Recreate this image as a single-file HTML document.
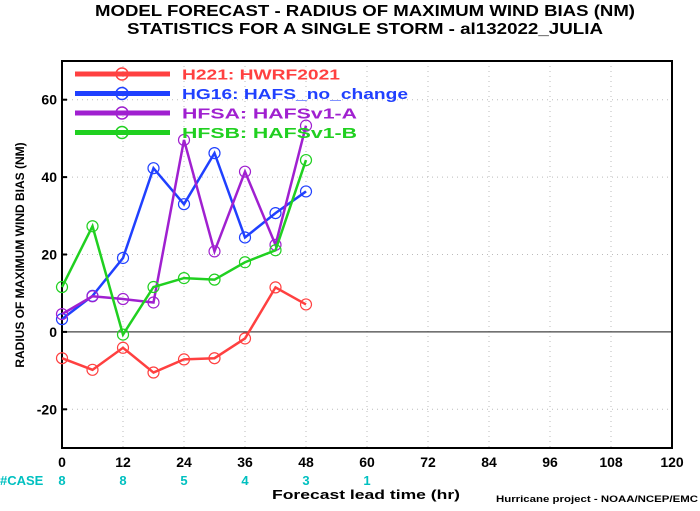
<!DOCTYPE html>
<html><head><meta charset="utf-8"><style>
body{margin:0;background:#fff}
text{font-family:"Liberation Sans",sans-serif;font-weight:bold}
</style></head><body>
<svg id="chart" width="700" height="506" xmlns="http://www.w3.org/2000/svg">
<text x="95" y="16" font-size="16" textLength="540" lengthAdjust="spacingAndGlyphs">MODEL FORECAST - RADIUS OF MAXIMUM WIND BIAS (NM)</text>
<text x="127" y="34" font-size="16" textLength="476" lengthAdjust="spacingAndGlyphs">STATISTICS FOR A SINGLE STORM - al132022_JULIA</text>
<text transform="translate(24,255) rotate(-90)" text-anchor="middle" font-size="12">RADIUS OF MAXIMUM WIND BIAS (NM)</text>
<text x="272" y="499" font-size="13" textLength="188" lengthAdjust="spacingAndGlyphs">Forecast lead time (hr)</text>
<text x="496" y="502" font-size="9" font-weight="normal" textLength="202" lengthAdjust="spacingAndGlyphs">Hurricane project - NOAA/NCEP/EMC</text>
<text x="0" y="485" font-size="13" fill="#00c0c0">#CASE</text>
<g id="grid"></g><g id="axes"></g><g id="series"></g><g id="legend"></g>
</svg>
<script>
const xTicks=[0,12,24,36,48,60,72,84,96,108,120];
const yTicks=[-20,0,20,40,60];
const caseHours=[0,12,24,36,48,60];
const caseCounts=["8","8","5","4","3","1"];
const hours=[0,6,12,18,24,30,36,42,48];
const h221=[-6.8,-9.8,-4.1,-10.5,-7.1,-6.8,-1.7,11.5,7.1];
const hg16=[3.3,9.3,19.1,42.3,33,46.2,24.4,30.7,36.3];
const hfsa=[4.6,9.2,8.5,7.6,49.6,20.8,41.4,22.5,53.3];
const hfsb=[11.6,27.3,-0.7,11.6,13.9,13.5,18,21.1,44.4];
const names=["H221: HWRF2021","HG16: HAFS_no_change","HFSA: HAFSv1-A","HFSB: HAFSv1-B"];
const nameLens=[158,226,175,175];
const colors=["#ff4040","#2040ff","#a020d0","#20d020"];
const X0=62,X1=672,Y0=448,Y1=61,ymin=-30,ymax=70;
const sx=h=>X0+(h/120)*(X1-X0);
const sy=v=>Y0-(v-ymin)/(ymax-ymin)*(Y0-Y1);
const NS="http://www.w3.org/2000/svg";
function mk(t,a,p){const e=document.createElementNS(NS,t);for(const k in a)e.setAttribute(k,a[k]);p.appendChild(e);return e;}
const grid=document.getElementById('grid'),axes=document.getElementById('axes'),ser=document.getElementById('series'),leg=document.getElementById('legend');
xTicks.forEach(t=>{
 if(t>0&&t<120){const g=mk('line',{x1:sx(t),x2:sx(t),y1:Y1,y2:Y0,stroke:'#bbb','stroke-dasharray':'1,4'},grid);
 
 }
 const l=mk('text',{x:sx(t),y:467,'text-anchor':'middle','font-size':14},axes);l.textContent=t;
 
 
});
yTicks.forEach(t=>{
 const g=mk('line',{x1:X0,x2:X1,y1:sy(t),y2:sy(t),stroke:t===0?'#444':'#bbb','stroke-dasharray':t===0?'':'1,4','stroke-width':t===0?1.2:1},grid);
 
 
 const tk=mk('line',{x1:X0,x2:X0+5,y1:sy(t),y2:sy(t),stroke:'#000','stroke-width':2},axes);
 
 
 const l=mk('text',{x:X0-5,y:sy(t)+5,'text-anchor':'end','font-size':14},axes);l.textContent=t;
 
 
});
caseHours.forEach((h,i)=>{const l=mk('text',{x:sx(h),y:485,'text-anchor':'middle','font-size':13,fill:'#00c0c0'},axes);l.textContent=caseCounts[i];
 
 });
const fr=mk('rect',{x:X0,y:Y1,width:X1-X0,height:Y0-Y1,fill:'none',stroke:'#000','stroke-width':2},axes);


[h221,hg16,hfsa,hfsb].forEach((d,si)=>{
 const p=mk('polyline',{points:d.map((v,i)=>sx(hours[i])+','+sy(v)).join(' '),fill:'none',stroke:colors[si],'stroke-width':2.5},ser);
 
 
 d.forEach((v,i)=>{const c=mk('circle',{cx:sx(hours[i]),cy:sy(v),r:5.5,fill:'none',stroke:colors[si],'stroke-width':1.2},ser);
 
 });
 const y=74+si*19.5;
 const ll=mk('line',{x1:75,x2:170,y1:y,y2:y,stroke:colors[si],'stroke-width':5},leg);
 
 
 const lc=mk('circle',{cx:122,cy:y,r:6,fill:'none',stroke:colors[si],'stroke-width':1.5},leg);
 
 
 const lt=mk('text',{x:182,y:y+5.5,'font-size':15,fill:colors[si],textLength:nameLens[si],lengthAdjust:'spacingAndGlyphs'},leg);lt.textContent=names[si];
 
 
});
</script>
</body></html>
